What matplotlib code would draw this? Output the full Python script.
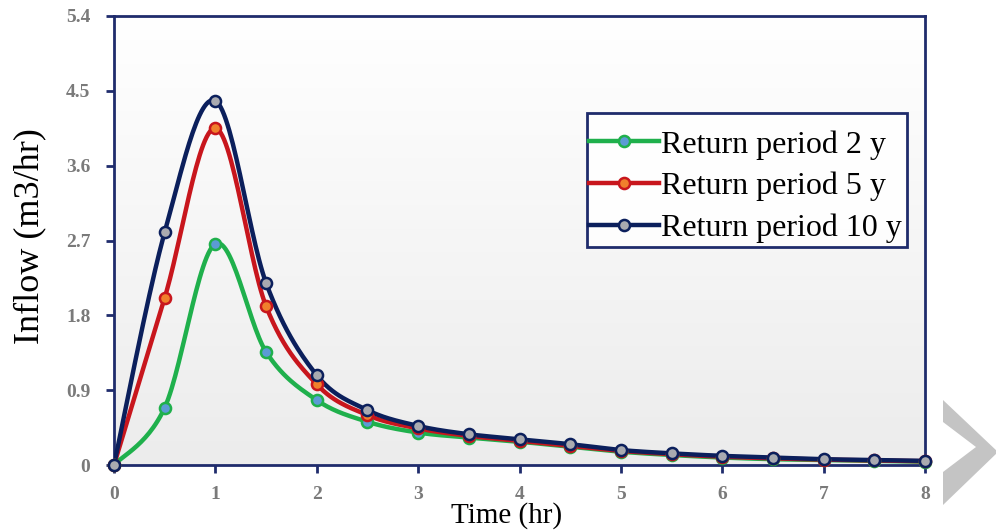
import numpy as np
import matplotlib
matplotlib.use("Agg")
import matplotlib.pyplot as plt
from matplotlib.lines import Line2D
from matplotlib.patches import Polygon, Rectangle

# ---- data ----
time_hr = [0, 0.5, 1, 1.5, 2, 2.5, 3, 3.5, 4, 4.5, 5, 5.5, 6, 6.5, 7, 7.5, 8]
rp2 = [0, 0.69, 2.66, 1.36, 0.78, 0.52, 0.39, 0.33, 0.28, 0.22, 0.16, 0.12, 0.09, 0.07, 0.06, 0.05, 0.04]
rp5 = [0, 2.01, 4.05, 1.91, 0.97, 0.60, 0.44, 0.35, 0.29, 0.23, 0.17, 0.13, 0.10, 0.08, 0.065, 0.055, 0.045]
rp10 = [0, 2.80, 4.38, 2.19, 1.08, 0.66, 0.47, 0.37, 0.31, 0.25, 0.18, 0.14, 0.11, 0.09, 0.07, 0.06, 0.05]
labels = ["Return period 2 y", "Return period 5 y", "Return period 10 y"]
xticks = [0, 1, 2, 3, 4, 5, 6, 7, 8]
xtick_labels = ["0", "1", "2", "3", "4", "5", "6", "7", "8"]
yticks = [0, 0.9, 1.8, 2.7, 3.6, 4.5, 5.4]
ytick_labels = ["0", "0.9", "1.8", "2.7", "3.6", "4.5", "5.4"]


def smooth(x, y, n=30):
    """Excel-like smoothed line through points (cubic Bezier, Catmull-Rom control points)."""
    x = np.asarray(x, float)
    y = np.asarray(y, float)
    P = np.column_stack([x, y])
    out = []
    for i in range(len(P) - 1):
        p0 = P[i - 1] if i > 0 else P[i]
        p1 = P[i]
        p2 = P[i + 1]
        p3 = P[i + 2] if i + 2 < len(P) else P[i + 1]
        c1 = p1 + (p2 - p0) / 6.0
        c2 = p2 - (p3 - p1) / 6.0
        t = np.linspace(0, 1, n)[:, None]
        seg = ((1 - t) ** 3) * p1 + 3 * ((1 - t) ** 2) * t * c1 + 3 * (1 - t) * t ** 2 * c2 + t ** 3 * p2
        out.append(seg if i == 0 else seg[1:])
    out = np.vstack(out)
    return out[:, 0], out[:, 1]


serif = ["Liberation Serif", "DejaVu Serif"]
plt.rcParams["font.family"] = serif

W, H = 996, 531
fig = plt.figure(figsize=(W / 100, H / 100), dpi=100)
fig.patch.set_facecolor("white")

L, R, T, B = 114, 925, 16, 465
ax = fig.add_axes([L / W, 1 - B / H, (R - L) / W, (B - T) / H])

# gradient background
grad = np.linspace(0, 1, 256)[:, None]
cmap = matplotlib.colors.LinearSegmentedColormap.from_list("bg", ["#ffffff", "#ececec"])
ax.imshow(grad, aspect="auto", cmap=cmap, extent=[0, 1, 0, 1], transform=ax.transAxes,
          origin="upper", zorder=0)

navy_spine = "#1f2c6c"

series = [
    (rp2, "#1fb04c", "#5b9bd5", "#1fb04c"),
    (rp5, "#c8161d", "#f0802c", "#c8161d"),
    (rp10, "#0b1f5c", "#a9aab0", "#0b1f5c"),
]
handles = []
for (vals, lc, mfc, mec), lab in zip(series, labels):
    xs, ys = smooth(time_hr, vals)
    ax.plot(xs, ys, color=lc, lw=3.2, solid_capstyle="round", zorder=3)
    ax.plot(time_hr, vals, linestyle="none", marker="o", ms=8, mfc=mfc, mec=mec, mew=1.8,
            zorder=4, clip_on=False)
    handles.append(Line2D([0], [0], color=lc, lw=3.2, marker="o", ms=8, mfc=mfc, mec=mec, mew=1.8))

ax.set_xlim(0, 8)
ax.set_ylim(0, 5.4)
ax.set_xticks(xticks, labels=xtick_labels, fontsize=14, fontweight="bold", color="#7a7a7a")
ax.set_yticks(yticks, labels=ytick_labels, fontsize=14, fontweight="bold", color="#7a7a7a")

for s in ax.spines.values():
    s.set_color(navy_spine)
    s.set_linewidth(2)

ax.tick_params(axis="both", direction="out", color=navy_spine, width=2, length=6)
ax.tick_params(axis="x", pad=9)
ax.tick_params(axis="y", pad=11)

fig.text(507 / W, 1 - 516 / H, "Time (hr)", ha="center", va="center", fontsize=21,
         color="black")
fig.text(30 / W, 1 - 236 / H, "Inflow (m3/hr)", ha="center", va="center", fontsize=26,
         color="black", rotation=90)

# legend frame drawn as a rectangle (inside the axes' drawing order, below the legend)
lx0, ly0, lx1, ly1 = 587, 113, 907, 247
frame = Rectangle((lx0 / W, 1 - ly1 / H), (lx1 - lx0) / W, (ly1 - ly0) / H,
                  transform=fig.transFigure, facecolor="#ffffff", alpha=0.9,
                  edgecolor="none", zorder=5, clip_on=False)
ax.add_artist(frame)
frame_edge = Rectangle((lx0 / W, 1 - ly1 / H), (lx1 - lx0) / W, (ly1 - ly0) / H,
                       transform=fig.transFigure, facecolor="none",
                       edgecolor=navy_spine, lw=2, zorder=5.5, clip_on=False)
ax.add_artist(frame_edge)

leg = ax.legend(handles, labels, loc="upper left",
                bbox_to_anchor=(589 / W, 1 - 130 / H), bbox_transform=fig.transFigure,
                borderaxespad=0, prop={"size": 23},
                frameon=False, labelspacing=0.38, handlelength=2.2,
                handletextpad=0.05, borderpad=0.0)
leg.set_zorder(6)

# decorative chevron at right edge
pts = [(943, 400), (998, 452), (943, 505), (943, 472), (976, 447), (943, 422)]
poly = Polygon([(x / W, 1 - y / H) for x, y in pts], closed=True, transform=fig.transFigure,
               facecolor="#c4c4c4", edgecolor="none")
fig.patches.append(poly)

fig.savefig("out.png", dpi=100)
